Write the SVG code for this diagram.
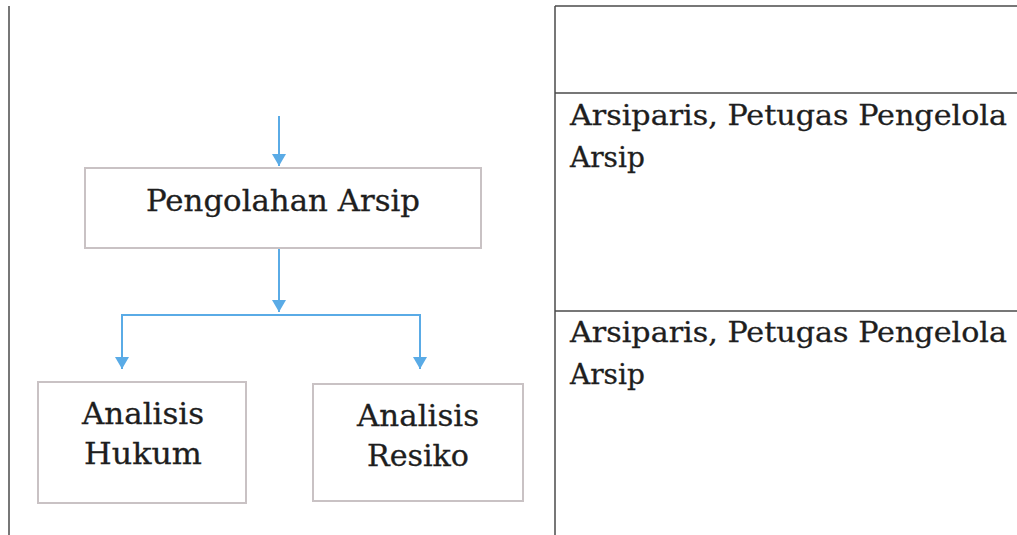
<svg xmlns="http://www.w3.org/2000/svg" width="1017" height="535" viewBox="0 0 1017 535">
<style>
.tl{stroke:#4a4a4a;stroke-width:1.5;fill:none}
.box{fill:#fff;stroke:#c9c2c4;stroke-width:2}
.t{font-family:"DejaVu Serif","Liberation Serif",serif;font-size:29px;fill:#1e1e1e;stroke:#1e1e1e;stroke-width:0.3}
.r{font-size:28px}
.c{stroke:#5aabe6;stroke-width:2;fill:none}
</style>
<defs>
<marker id="ah" markerWidth="14" markerHeight="14" viewBox="0 0 12 14" refX="12" refY="7" orient="auto" markerUnits="userSpaceOnUse">
<path d="M0,0 L12,7 L0,14 Z" fill="#5aabe6"/>
</marker>
</defs>
<rect width="1017" height="535" fill="#fff"/>
<g id="table">
<line class="tl" x1="9" y1="6" x2="9" y2="535"/>
<line class="tl" x1="555" y1="6" x2="555" y2="535"/>
<line class="tl" x1="555" y1="6" x2="1017" y2="6"/>
<line class="tl" x1="555" y1="93" x2="1017" y2="93"/>
<line class="tl" x1="555" y1="311" x2="1017" y2="311"/>
</g>
<g id="pelaksana1">
<text class="t r" x="570" y="125" textLength="437" lengthAdjust="spacingAndGlyphs">Arsiparis, Petugas Pengelola</text>
<text class="t r" x="570" y="167">Arsip</text>
</g>
<g id="pelaksana2">
<text class="t r" x="570" y="342" textLength="437" lengthAdjust="spacingAndGlyphs">Arsiparis, Petugas Pengelola</text>
<text class="t r" x="570" y="384">Arsip</text>
</g>
<g id="connectors">
<path class="c" d="M279,116 V166" marker-end="url(#ah)"/>
<path class="c" d="M279,248 V312" marker-end="url(#ah)"/>
<path class="c" d="M279,315 H122 V369" marker-end="url(#ah)"/>
<path class="c" d="M279,315 H420 V369" marker-end="url(#ah)"/>
</g>
<g id="pengolahan">
<rect class="box" x="85" y="168" width="396" height="80"/>
<text class="t" x="283" y="211" text-anchor="middle" textLength="274" lengthAdjust="spacingAndGlyphs">Pengolahan Arsip</text>
</g>
<g id="hukum">
<rect class="box" x="38" y="382" width="208" height="121"/>
<text class="t" x="143" y="424" text-anchor="middle" textLength="122" lengthAdjust="spacingAndGlyphs">Analisis</text>
<text class="t" x="143" y="464" text-anchor="middle" textLength="118" lengthAdjust="spacingAndGlyphs">Hukum</text>
</g>
<g id="resiko">
<rect class="box" x="313" y="384" width="210" height="117"/>
<text class="t" x="418" y="426" text-anchor="middle" textLength="122" lengthAdjust="spacingAndGlyphs">Analisis</text>
<text class="t" x="418" y="466" text-anchor="middle" textLength="102" lengthAdjust="spacingAndGlyphs">Resiko</text>
</g>
</svg>
